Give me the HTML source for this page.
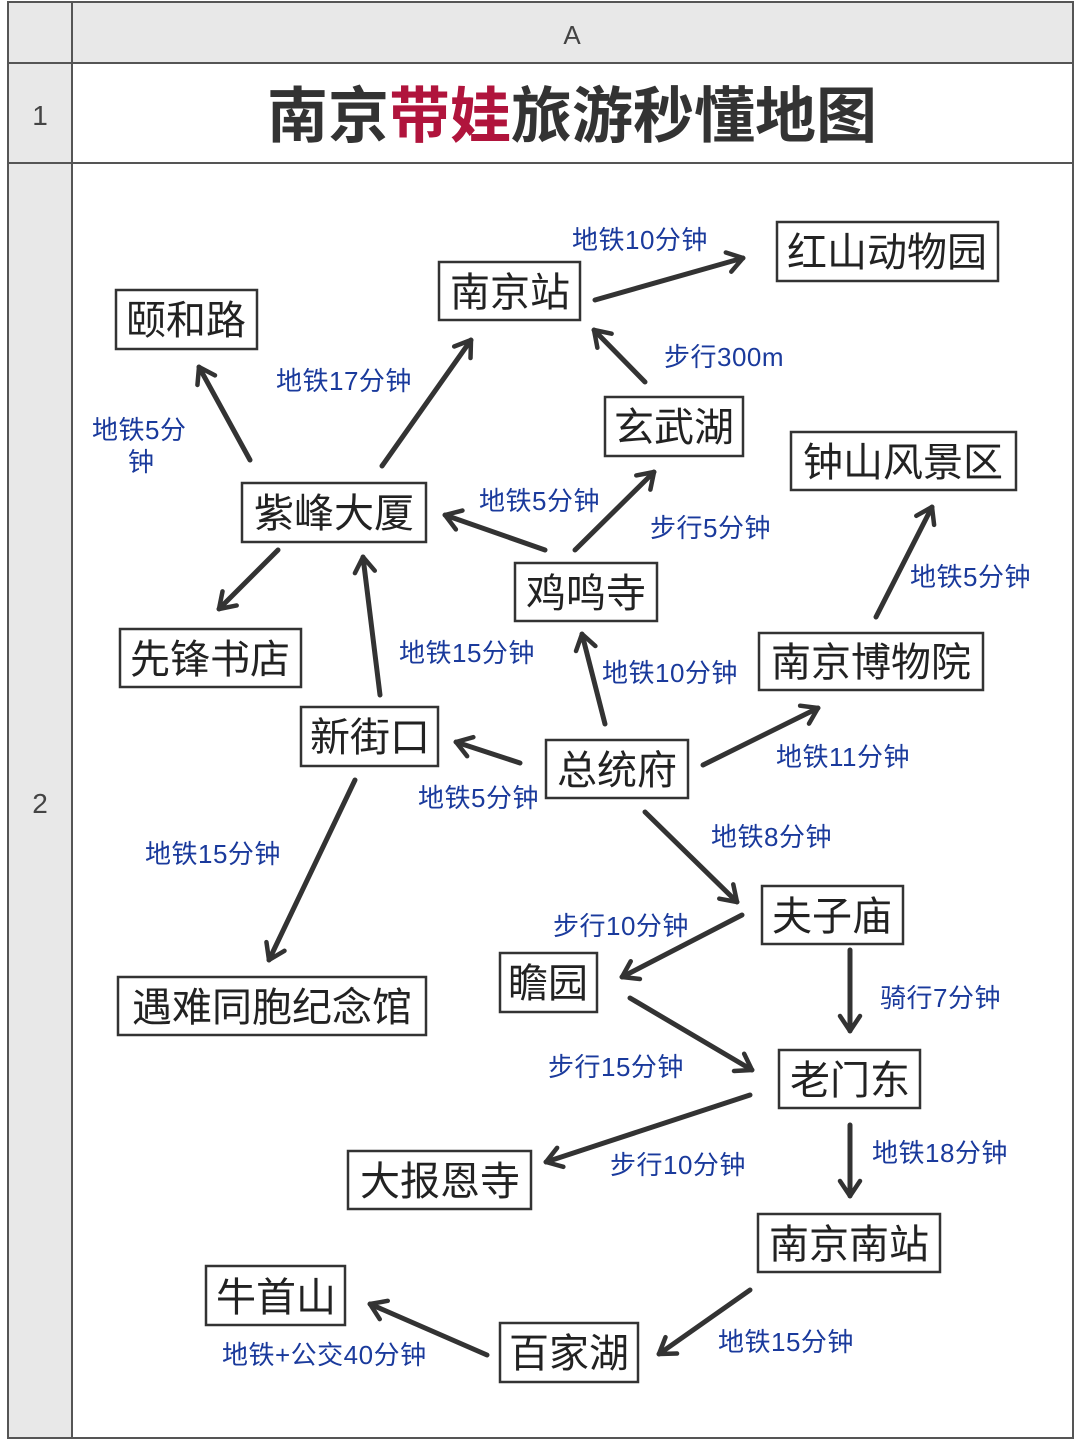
<!DOCTYPE html>
<html><head><meta charset="utf-8"><style>
html,body{margin:0;padding:0;background:#fff;}
svg{display:block;}
text{font-family:"Liberation Sans","Noto Sans CJK SC",sans-serif;}
.n{font-size:40px;fill:#222;}
.l{font-size:26px;fill:#1a3a9c;letter-spacing:0.5px;}
</style></head><body>
<svg width="1080" height="1440" viewBox="0 0 1080 1440" xmlns="http://www.w3.org/2000/svg">
<defs>
<marker id="a" viewBox="0 0 20 20" refX="16" refY="10" markerWidth="5" markerHeight="5" orient="auto" markerUnits="strokeWidth">
<polyline points="4,2 16,10 4,18" fill="none" stroke="#333" stroke-width="3.6" stroke-linecap="round" stroke-linejoin="round"/>
</marker>
</defs>
<rect x="0" y="0" width="1080" height="1440" fill="#fff"/>
<rect x="8" y="2" width="1065" height="61" fill="#e8e8e8"/>
<rect x="8" y="63" width="64" height="1375" fill="#e8e8e8"/>
<g stroke="#555" stroke-width="2" fill="none">
<rect x="8" y="2" width="1065" height="1436"/>
<line x1="8" y1="63" x2="1073" y2="63"/>
<line x1="8" y1="163" x2="1073" y2="163"/>
<line x1="72" y1="2" x2="72" y2="1438"/>
</g>
<text x="572" y="44" text-anchor="middle" font-size="26" fill="#444">A</text>
<text x="40" y="125" text-anchor="middle" font-size="28" fill="#444">1</text>
<text x="40" y="813" text-anchor="middle" font-size="28" fill="#444">2</text>
<text x="572" y="137" text-anchor="middle" font-size="61" font-weight="bold" fill="#333">南京<tspan fill="#b0143c">带娃</tspan>旅游秒懂地图</text>

<g fill="#fff" stroke="#333" stroke-width="2.5">
<rect x="777" y="222" width="221" height="59"/>
<rect x="439" y="262" width="141" height="58"/>
<rect x="116" y="290" width="141" height="59"/>
<rect x="605" y="397" width="138" height="59"/>
<rect x="791" y="432" width="225" height="58"/>
<rect x="242" y="483" width="184" height="59"/>
<rect x="515" y="563" width="142" height="58"/>
<rect x="120" y="629" width="181" height="58"/>
<rect x="759" y="633" width="224" height="57"/>
<rect x="301" y="707" width="137" height="59"/>
<rect x="546" y="740" width="142" height="58"/>
<rect x="762" y="886" width="141" height="58"/>
<rect x="500" y="953" width="97" height="59"/>
<rect x="118" y="977" width="308" height="58"/>
<rect x="779" y="1050" width="141" height="58"/>
<rect x="348" y="1151" width="183" height="58"/>
<rect x="758" y="1214" width="182" height="58"/>
<rect x="206" y="1266" width="139" height="59"/>
<rect x="500" y="1323" width="138" height="59"/>
</g>
<g class="n" text-anchor="middle">
<text x="887" y="266">红山动物园</text>
<text x="510" y="306">南京站</text>
<text x="186" y="334">颐和路</text>
<text x="674" y="441">玄武湖</text>
<text x="903" y="476">钟山风景区</text>
<text x="334" y="527">紫峰大厦</text>
<text x="586" y="607">鸡鸣寺</text>
<text x="210" y="673">先锋书店</text>
<text x="871" y="676">南京博物院</text>
<text x="370" y="751">新街口</text>
<text x="617" y="784">总统府</text>
<text x="832" y="930">夫子庙</text>
<text x="548" y="997">瞻园</text>
<text x="272" y="1021">遇难同胞纪念馆</text>
<text x="850" y="1094">老门东</text>
<text x="440" y="1195">大报恩寺</text>
<text x="849" y="1258">南京南站</text>
<text x="276" y="1311">牛首山</text>
<text x="569" y="1367">百家湖</text>
</g>

<g stroke="#333" stroke-width="5" stroke-linecap="round" fill="none" marker-end="url(#a)">
<line x1="595" y1="300" x2="743" y2="258"/>
<line x1="645" y1="382" x2="594" y2="330"/>
<line x1="250" y1="460" x2="199" y2="367"/>
<line x1="382" y1="466" x2="471" y2="340"/>
<line x1="545" y1="550" x2="445" y2="515"/>
<line x1="575" y1="550" x2="654" y2="472"/>
<line x1="278" y1="550" x2="219" y2="609"/>
<line x1="380" y1="695" x2="363" y2="557"/>
<line x1="605" y1="724" x2="582" y2="634"/>
<line x1="876" y1="617" x2="932" y2="507"/>
<line x1="520" y1="763" x2="456" y2="742"/>
<line x1="703" y1="765" x2="818" y2="708"/>
<line x1="645" y1="812" x2="737" y2="902"/>
<line x1="355" y1="780" x2="269" y2="960"/>
<line x1="742" y1="915" x2="622" y2="977"/>
<line x1="850" y1="950" x2="850" y2="1031"/>
<line x1="630" y1="998" x2="752" y2="1070"/>
<line x1="750" y1="1095" x2="546" y2="1162"/>
<line x1="850" y1="1125" x2="850" y2="1196"/>
<line x1="750" y1="1290" x2="659" y2="1354"/>
<line x1="487" y1="1355" x2="370" y2="1304"/>
</g>

<g class="l">
<text x="572" y="249">地铁10分钟</text>
<text x="664" y="366">步行300m</text>
<text x="276" y="390">地铁17分钟</text>
<text x="92" y="439">地铁5分</text>
<text x="128" y="471">钟</text>
<text x="479" y="510">地铁5分钟</text>
<text x="650" y="537">步行5分钟</text>
<text x="910" y="586">地铁5分钟</text>
<text x="399" y="662">地铁15分钟</text>
<text x="602" y="682">地铁10分钟</text>
<text x="776" y="766">地铁11分钟</text>
<text x="418" y="807">地铁5分钟</text>
<text x="711" y="846">地铁8分钟</text>
<text x="145" y="863">地铁15分钟</text>
<text x="553" y="935">步行10分钟</text>
<text x="880" y="1007">骑行7分钟</text>
<text x="548" y="1076">步行15分钟</text>
<text x="610" y="1174">步行10分钟</text>
<text x="872" y="1162">地铁18分钟</text>
<text x="718" y="1351">地铁15分钟</text>
<text x="222" y="1364">地铁+公交40分钟</text>
</g>
</svg>
</body></html>
